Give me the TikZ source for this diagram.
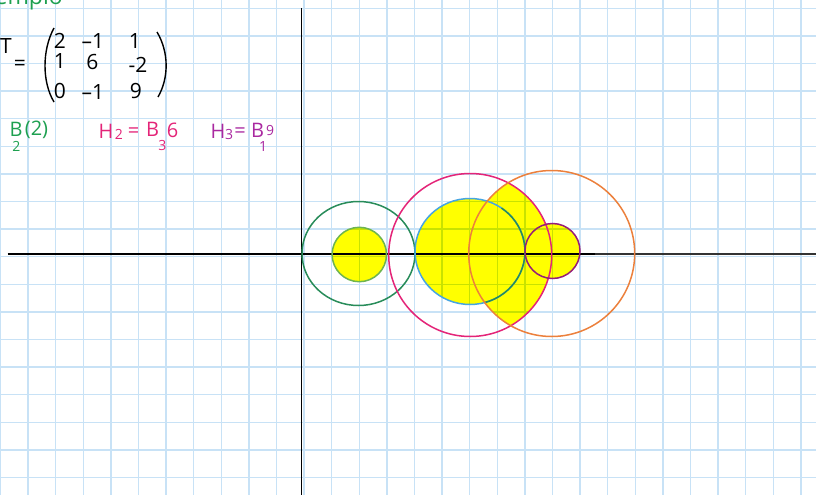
\documentclass[tikz,border=0pt]{standalone}
\usepackage{fontspec}
\setmainfont{Open Sans}
\definecolor{gridblue}{RGB}{200,226,246}
\definecolor{dgreen}{RGB}{40,140,90}
\definecolor{lgreen}{RGB}{110,180,80}
\definecolor{tgreen}{RGB}{30,160,80}
\definecolor{cpink}{RGB}{228,36,120}
\definecolor{cblue}{RGB}{70,165,225}
\definecolor{corange}{RGB}{236,128,60}
\definecolor{cpurple}{RGB}{150,30,120}
\definecolor{tpurple}{RGB}{170,40,160}
\definecolor{hyellow}{RGB}{255,255,0}
\tikzset{
  gridline/.style={draw=gridblue, line width=1.4pt},
  axisline/.style={draw=black, line width=1.6pt},
  ring/.style={line width=1.5pt},
  big/.style={inner sep=0pt, font=\fontsize{21}{25}\selectfont},
  mid/.style={inner sep=0pt, font=\fontsize{20}{24}\selectfont},
  tiny/.style={inner sep=0pt, font=\fontsize{14}{16}\selectfont},
}
\begin{document}
\begin{tikzpicture}[x=1pt,y=-1pt]
\useasboundingbox (0,0) rectangle (816,495);
\clip (0,0) rectangle (816,495);
\fill[white] (0,0) rectangle (816,495);
% grid
\foreach \i in {0,...,29} {
  \draw[gridline] ({0.5+27.6*\i},0) -- ({0.5+27.6*\i},495);
}
\foreach \j in {0,...,17} {
  \draw[gridline] (0,{8.3+27.6*\j}) -- (816,{8.3+27.6*\j});
}
% yellow fills
\begin{scope}[blend mode=multiply]
  \fill[hyellow] (359.3,254.5) circle (27.2);
  \fill[hyellow] (470,251.5) ellipse (55 and 53);
  \fill[hyellow] (552.5,251) circle (27.5);
  \begin{scope}
    \clip (470.2,255) circle (81.5);
    \fill[hyellow] (551.7,253.5) circle (83);
  \end{scope}
\end{scope}
% axes
\coordinate (yt) at (301.5,8.5);
\coordinate (yb) at (301.5,495);
\coordinate (xl) at (7.5,254);
\coordinate (xm) at (595,254);
\coordinate (xr) at (816,254);
\draw[axisline] (yt) -- (yb);
\draw[axisline] (xl) -- (xm);
\draw[draw=black!80, line width=1.2pt] (xm) -- (xr);
% circles
\draw[ring, dgreen] (358.5,253.5) ellipse (56.5 and 52);
\draw[ring, lgreen] (359.3,254.5) circle (27.2);
\draw[ring, cpink] (470.2,255) circle (81.5);
\draw[ring, cblue] (470,251.5) ellipse (55 and 53);
\draw[ring, dgreen] (470,251.5) ++(75:55 and 53) arc[start angle=75, end angle=-55, x radius=55, y radius=53];
\draw[ring, corange] (551.7,253.5) circle (83);
\draw[ring, cpurple] (552.5,251) circle (27.5);
% title (cut off)
\node[anchor=base east, inner sep=0pt, text=tgreen, font=\fontsize{23}{27}\selectfont] (title) at (63,5) {Ejemplo};
% matrix
\node[big] (T) at (6,46) {T};
\node[big] (eq) at (20,65) {=};
\draw[line width=1.4pt] (54,28) .. controls (42,50) and (42,82) .. (54,102);
\draw[line width=1.4pt] (157,32) .. controls (169,52) and (169,78) .. (158,97);
\node[big] (a11) at (60,41) {2};
\node[big] (a12) at (93,41) {–1};
\node[big] (a13) at (135,41) {1};
\node[big] (a21) at (60,61) {1};
\node[big] (a22) at (92.5,62) {6};
\node[big] (a23) at (138,65) {-2};
\node[big] (a31) at (60,91) {0};
\node[big] (a32) at (93,92) {–1};
\node[big] (a33) at (136,91) {9};
% disc labels
\node[mid, text=tgreen] (b1) at (16,129) {B};
\node[tiny, text=tgreen] (b1s) at (16.5,146) {2};
\node[mid, text=tgreen] (b1c) at (36.5,129.5) {(2)};
\node[mid, text=cpink] (h2) at (106,131) {H};
\node[tiny, text=cpink] (h2i) at (119,134) {2};
\node[mid, text=cpink] (h2e) at (133.5,133) {=};
\node[mid, text=cpink] (h2b) at (152.5,129) {B};
\node[tiny, text=cpink] (h2s) at (162.5,145) {3};
\node[mid, text=cpink] (h2c) at (172.5,130) {6};
\node[mid, text=tpurple] (h3) at (218,131) {H};
\node[tiny, text=tpurple] (h3i) at (229,134) {3};
\node[mid, text=tpurple] (h3e) at (240,133) {=};
\node[mid, text=tpurple] (h3b) at (257.5,130) {B};
\node[tiny, text=tpurple] (h3c) at (270,130) {9};
\node[tiny, text=tpurple] (h3s) at (263,147) {1};
\end{tikzpicture}
\end{document}
